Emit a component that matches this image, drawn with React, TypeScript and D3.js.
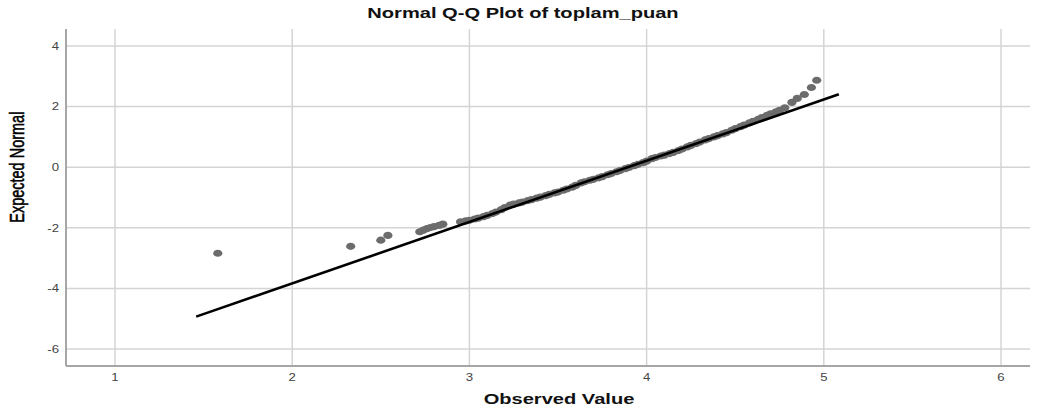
import * as d3 from "d3";

const observed = [
  1.58, 2.33, 2.5, 2.54,
  2.72, 2.74, 2.76, 2.78, 2.8, 2.83, 2.85,
  2.95, 2.98, 3.0, 3.03, 3.05, 3.08, 3.1, 3.13, 3.15, 3.18,
  3.2, 3.23, 3.25, 3.28, 3.3, 3.33, 3.35, 3.38, 3.4, 3.43,
  3.45, 3.48, 3.5, 3.53, 3.55, 3.58, 3.6, 3.63, 3.65, 3.68,
  3.7, 3.73, 3.75, 3.78, 3.8, 3.83, 3.85, 3.88, 3.9, 3.93,
  3.95, 3.98, 4.0, 4.03, 4.05, 4.08, 4.1, 4.13, 4.15, 4.18,
  4.2, 4.23, 4.25, 4.28, 4.3, 4.33, 4.35, 4.38, 4.4, 4.43,
  4.45, 4.48, 4.5, 4.53, 4.55, 4.58, 4.6, 4.63, 4.65, 4.68,
  4.7, 4.73, 4.75, 4.78, 4.82, 4.85, 4.89, 4.93, 4.96,
];
const expectedNormal = [
  -2.84, -2.61, -2.41, -2.25,
  -2.13, -2.08, -2.03, -1.99, -1.96, -1.92, -1.88,
  -1.8, -1.77, -1.75, -1.71, -1.68, -1.63, -1.59, -1.53, -1.48, -1.4,
  -1.33, -1.25, -1.22, -1.18, -1.15, -1.1, -1.07, -1.02, -0.99, -0.94,
  -0.9, -0.85, -0.82, -0.76, -0.72, -0.66, -0.6, -0.52, -0.48, -0.43,
  -0.4, -0.35, -0.31, -0.25, -0.21, -0.15, -0.11, -0.05, -0.01, 0.05,
  0.09, 0.15, 0.2, 0.28, 0.32, 0.37, 0.4, 0.45, 0.49, 0.55,
  0.6, 0.67, 0.72, 0.78, 0.83, 0.9, 0.94, 1.0, 1.04, 1.1,
  1.14, 1.22, 1.27, 1.34, 1.39, 1.46, 1.51, 1.58, 1.64, 1.71,
  1.76, 1.83, 1.88, 1.96, 2.14, 2.27, 2.4, 2.63, 2.87,
];

// reference line (normal distribution fitted to the data)
const lineMean = 3.894;
const lineSd = 0.494;
const lineFrom = 1.458;
const lineTo = 5.085;

const xTicks = [1, 2, 3, 4, 5, 6];
const yTicks = [-6, -4, -2, 0, 2, 4];

export default function App() {
  const width = 1038;
  const height = 410;
  const left = 66;
  const right = 1030;
  const top = 29;
  const bottom = 366;
  const stretch = 1.34; // the original picture is stretched sideways

  const x = d3.scaleLinear().domain([1, 6]).range([115, 1001]);
  const y = d3.scaleLinear().domain([-6, 4]).range([349, 46]);

  const refLine = d3
    .line<number>()
    .x((d) => x(d))
    .y((d) => y((d - lineMean) / lineSd));

  return (
    <svg
      width={width}
      height={height}
      style={{ position: "absolute", left: 0, top: 0, background: "#fff" }}
      fontFamily="'Liberation Sans', Arial, sans-serif"
    >
      {/* grid */}
      {yTicks.map((t) => (
        <line key={"gy" + t} x1={left} x2={right} y1={y(t)} y2={y(t)} stroke="#d4d4d4" strokeWidth={1.5} />
      ))}
      {xTicks.map((t) => (
        <line key={"gx" + t} x1={x(t)} x2={x(t)} y1={top} y2={bottom} stroke="#d4d4d4" strokeWidth={1.5} />
      ))}

      {/* axes */}
      <line x1={left} x2={left} y1={top} y2={bottom} stroke="#a6a6a6" strokeWidth={2} />
      <line x1={left} x2={right} y1={bottom} y2={bottom} stroke="#a6a6a6" strokeWidth={2} />

      {yTicks.map((t) => (
        <text
          key={"ty" + t}
          transform={`translate(59, ${y(t)}) scale(1.2, 1)`}
          dy="0.35em"
          textAnchor="end"
          fontSize={11}
          fill="#444"
        >
          {t}
        </text>
      ))}
      {xTicks.map((t) => (
        <text
          key={"tx" + t}
          transform={`translate(${x(t)}, 381) scale(1.2, 1)`}
          textAnchor="middle"
          fontSize={11}
          fill="#444"
        >
          {t}
        </text>
      ))}

      {/* points */}
      {observed.map((o, i) => (
        <ellipse key={i} cx={x(o)} cy={y(expectedNormal[i])} rx={4.6} ry={3.6} fill="#6c6c6c" />
      ))}

      {/* reference line */}
      <path d={refLine([lineFrom, lineTo]) ?? ""} fill="none" stroke="#000" strokeWidth={2.6} />

      <text
        transform={`translate(523, 18) scale(${stretch}, 1)`}
        textAnchor="middle"
        fontSize={15}
        fontWeight="bold"
        fill="#111"
      >
        Normal Q-Q Plot of toplam_puan
      </text>
      <text
        transform={`translate(559, 404) scale(${stretch}, 1)`}
        textAnchor="middle"
        fontSize={15}
        fontWeight="bold"
        fill="#111"
      >
        Observed Value
      </text>
      <text
        transform={`translate(24, ${y(0)}) scale(1.4, 1) rotate(-90)`}
        textAnchor="middle"
        fontSize={14.5}
        fill="#000"
        stroke="#000"
        strokeWidth={0.4}
      >
        Expected Normal
      </text>
    </svg>
  );
}
